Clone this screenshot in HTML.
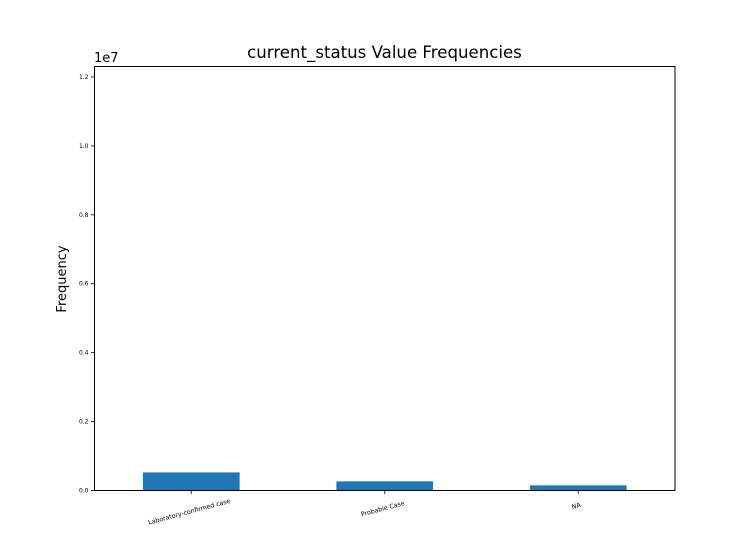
<!DOCTYPE html>
<html><head><meta charset="utf-8"><style>
body{margin:0;background:#fff;}
svg text{font-family:"DejaVu Sans","Liberation Sans",sans-serif;}
</style></head><body>
<svg id="chart" width="750" height="550" xmlns="http://www.w3.org/2000/svg">
<rect width="750" height="550" fill="#fff"/>
<text x="384.5" y="58" font-size="16.6" text-anchor="middle">current_status Value Frequencies</text>
<text x="94" y="62" font-size="13">1e7</text>
<text transform="translate(66,279) rotate(-90)" font-size="13" text-anchor="middle">Frequency</text>
<g id="bars"></g>
<g id="yticks"></g>
<g id="xticks"></g>
<rect x="94.5" y="66.5" width="580.5" height="424" fill="none" stroke="#000" stroke-width="1"/>
</svg>
<script>
const categories = ["Laboratory-confirmed case", "Probable Case", "NA"];
const values = [525000, 265000, 150000];
const yTickValues = [0, 2000000, 4000000, 6000000, 8000000, 10000000, 12000000];
const yTickLabels = ["0.0", "0.2", "0.4", "0.6", "0.8", "1.0", "1.2"];

const NS = "http://www.w3.org/2000/svg";
const L = 94.5, R = 675, T = 66.5, B = 490.5;
const yMax = 12304000;
function yScale(v){ return B - v / yMax * (B - T); }
function xScale(i){ return L + (i + 0.5) / categories.length * (R - L); }
const bw = 0.5 / categories.length * (R - L);

const gb = document.getElementById("bars");
values.forEach((v, i) => {
  const r = document.createElementNS(NS, "rect");
  r.setAttribute("x", xScale(i) - bw / 2);
  r.setAttribute("y", yScale(v));
  r.setAttribute("width", bw);
  r.setAttribute("height", B - yScale(v));
  r.setAttribute("fill", "#1f77b4");
  
  
  gb.appendChild(r);
});

const gy = document.getElementById("yticks");
yTickValues.forEach((v, i) => {
  const y = yScale(v);
  const l = document.createElementNS(NS, "line");
  l.setAttribute("x1", L - 3.5); l.setAttribute("x2", L);
  l.setAttribute("y1", y); l.setAttribute("y2", y);
  l.setAttribute("stroke", "#000"); l.setAttribute("stroke-width", "0.8");
  
  
  gy.appendChild(l);
  const t = document.createElementNS(NS, "text");
  t.setAttribute("x", L - 6); t.setAttribute("y", y + 2);
  t.setAttribute("font-size", "6"); t.setAttribute("text-anchor", "end");
  t.textContent = yTickLabels[i];
  
  
  gy.appendChild(t);
});

const gx = document.getElementById("xticks");
categories.forEach((c, i) => {
  const x = xScale(i);
  const l = document.createElementNS(NS, "line");
  l.setAttribute("x1", x); l.setAttribute("x2", x);
  l.setAttribute("y1", B); l.setAttribute("y2", B + 3.5);
  l.setAttribute("stroke", "#000"); l.setAttribute("stroke-width", "0.8");
  
  
  gx.appendChild(l);
  const t = document.createElementNS(NS, "text");
  t.setAttribute("transform", "translate(" + (x - 2) + "," + (B + 15 + c.length * 0.25) + ") rotate(-15)");
  t.setAttribute("font-size", "6.3"); t.setAttribute("text-anchor", "middle");
  t.setAttribute("dominant-baseline", "middle");
  t.textContent = c;
  
  
  gx.appendChild(t);
});
</script>
</body></html>
